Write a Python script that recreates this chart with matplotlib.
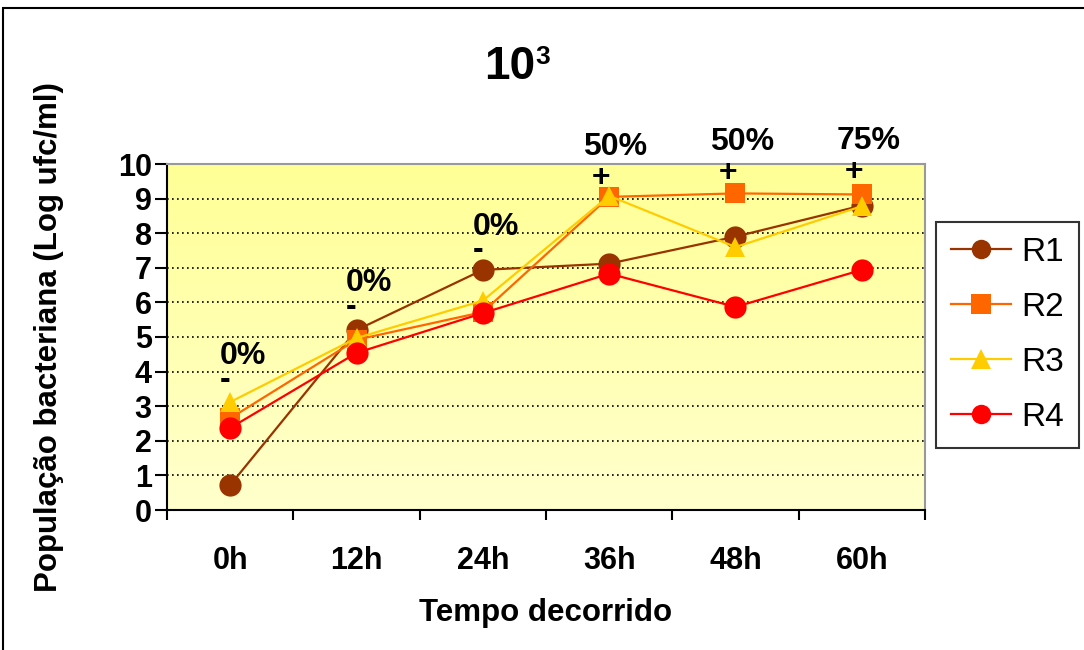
import numpy as np
import matplotlib
matplotlib.use("Agg")
import matplotlib.pyplot as plt
from matplotlib.patches import Rectangle

# Data
times = ["0h", "12h", "24h", "36h", "48h", "60h"]
r1 = [0.72, 5.2, 6.94, 7.12, 7.9, 8.8]
r2 = [2.65, 4.92, 5.72, 9.05, 9.15, 9.12]
r3 = [3.12, 4.97, 6.05, 9.08, 7.6, 8.78]
r4 = [2.37, 4.54, 5.69, 6.83, 5.87, 6.94]
signs = ["-", "-", "-", "+", "+", "+"]
percent_labels = ["0%", "0%", "0%", "50%", "50%", "75%"]
sign_baseline_y = [3.53, 5.64, 7.28, 9.36, 9.51, 9.54]
yticks = list(range(0, 11))

plt.rcParams["font.family"] = ["Liberation Sans", "DejaVu Sans"]

fig = plt.figure(figsize=(10.84, 6.5), dpi=100)
fig.patch.set_facecolor("white")

# outer frame of the chart
fig.patches.append(Rectangle((3 / 1084, -0.1), 1.2, (650 - 8) / 650 + 0.1,
                             transform=fig.transFigure, fill=False,
                             edgecolor="black", linewidth=1.5))

ax = fig.add_axes([167 / 1084, (650 - 510) / 650, 758 / 1084, 346 / 650])
x = np.arange(len(times))
ax.set_xlim(-0.5, len(times) - 0.5)
ax.set_ylim(0, 10)

# yellow gradient background
grad = np.linspace(0, 1, 256).reshape(-1, 1)
top = np.array([255, 255, 150]) / 255
bottom = np.array([255, 255, 205]) / 255
img = bottom[None, None, :] * (1 - grad[:, :, None]) + top[None, None, :] * grad[:, :, None]
ax.imshow(img, extent=[-0.5, len(times) - 0.5, 0, 10], origin="lower",
          aspect="auto", zorder=0)

# dotted gridlines
for yv in yticks[1:-1]:
    ax.axhline(yv, color="black", linestyle=(0, (1, 2)), linewidth=1.2, zorder=1)

series = [
    ("R1", r1, "#993300", "o", 16),
    ("R2", r2, "#FF6600", "s", 14),
    ("R3", r3, "#FFCC00", "^", 15),
    ("R4", r4, "#FF0000", "o", 16),
]
for name, vals, col, mk, ms in series:
    ax.plot(x, vals, color=col, marker=mk, markersize=ms, linewidth=1.6,
            markeredgewidth=0, label=name, zorder=3)

# percentage with the +/- sign underneath, as one text block per time point
for i in range(len(times)):
    dx = 0.1 if len(percent_labels[i]) == 2 else 0.05
    spacing = 0.72 if signs[i] == "-" else 1.03
    sign_text = signs[i] if signs[i] == "-" else " " + signs[i]
    ax.text(x[i] + dx, sign_baseline_y[i], percent_labels[i] + "\n" + sign_text,
            ha="center", va="baseline", multialignment="left",
            linespacing=spacing, fontsize=23, fontweight="bold", zorder=5,
            clip_on=False)

# spines
for s in ["top", "right"]:
    ax.spines[s].set_color("#999999")
    ax.spines[s].set_linewidth(1.5)
for s in ["left", "bottom"]:
    ax.spines[s].set_color("black")
    ax.spines[s].set_linewidth(1.5)

ax.set_yticks(yticks)
ax.set_yticklabels([str(v) for v in yticks], fontsize=22, fontweight="bold")
ax.tick_params(axis="y", direction="out", length=9, width=1.5, pad=2)

ax.set_xticks(np.arange(-0.5, len(times), 1.0))
ax.set_xticklabels([])
ax.tick_params(axis="x", which="major", direction="out", length=7, width=1.5)
ax.set_xticks(x, minor=True)
ax.set_xticklabels(times, minor=True, fontsize=22, fontweight="bold")
ax.tick_params(axis="x", which="minor", length=0, pad=26)

ax.set_xlabel("Tempo decorrido", fontsize=22.5, fontweight="bold", labelpad=16)
ax.set_ylabel("População bacteriana (Log ufc/ml)", fontsize=22.5,
              fontweight="bold", labelpad=39)

# title 10^3 with a raised exponent
fig.text(510 / 1084, 1 - 67 / 650, "10", ha="center", va="center",
         fontsize=33, fontweight="bold")
fig.text(535 / 1084, 1 - 57 / 650, "3", ha="left", va="center",
         fontsize=19, fontweight="bold")

leg = ax.legend(loc="upper left", bbox_to_anchor=(936 / 1084, 1 - 222 / 650),
                bbox_transform=fig.transFigure, fontsize=24, frameon=True,
                fancybox=False, edgecolor="black", handlelength=1.8,
                labelspacing=0.72, borderpad=0.45, handletextpad=0.3,
                borderaxespad=0)
leg.get_frame().set_linewidth(1.5)
for h in leg.legend_handles:
    h.set_markersize(14)

fig.savefig("out.png", dpi=100, facecolor="white")
